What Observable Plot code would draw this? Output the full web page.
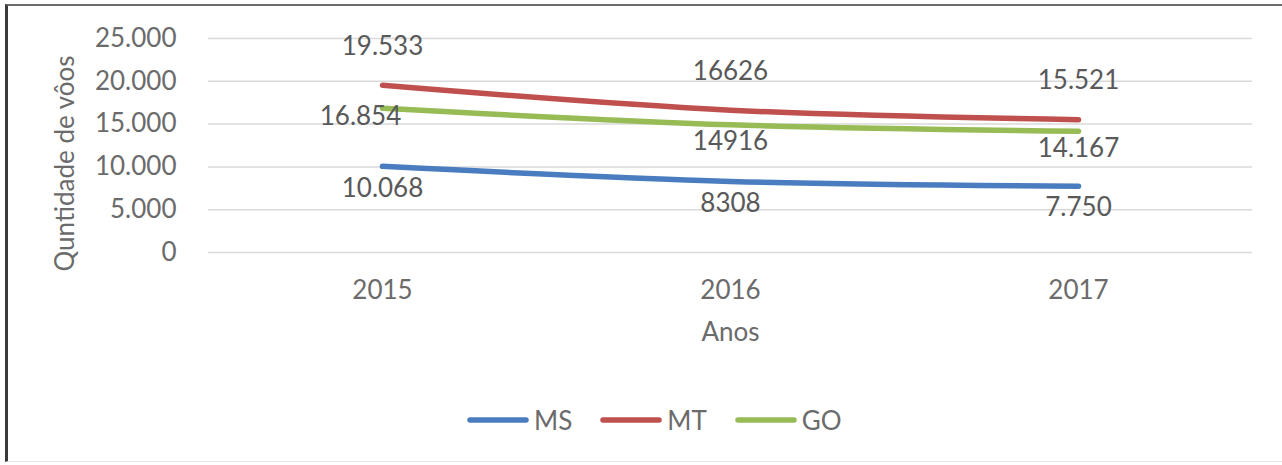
<!DOCTYPE html>
<html>
<head>
<meta charset="utf-8">
<script src="https://cdn.jsdelivr.net/npm/d3@7"></script>
<script src="https://cdn.jsdelivr.net/npm/@observablehq/plot@0.6"></script>
<style>
  html, body { margin: 0; padding: 0; background: #fff; }
  body { width: 1282px; height: 465px; position: relative; overflow: hidden; font-family: Lato, "Open Sans", sans-serif; }
  #frame { position: absolute; left: 5px; top: 4px; width: 1290px; height: 455px;
           border-left: 3px solid #3a3a3a; border-top: 2px solid #6a6a6a; border-bottom: 1px solid #e8e8e8; }
  #chart { position: absolute; left: 0; top: 0; }
  #legend { position: absolute; left: 467px; top: 404px; display: flex; align-items: center; gap: 28px;
            font-size: 26px; color: #6b6b6b; }
  .item { display: flex; align-items: center; gap: 5px; }
</style>
</head>
<body>
<div id="frame"></div>
<div id="chart"></div>
<div id="legend"></div>
<script>
// ---- data ----
const years = ["2015", "2016", "2017"];
const seriesNames = ["MS", "MT", "GO"];
const msValues = [10068, 8308, 7750];
const mtValues = [19533, 16626, 15521];
const goValues = [16854, 14916, 14167];
const msLabels = ["10.068", "8308", "7.750"];
const mtLabels = ["19.533", "16626", "15.521"];
const goLabels = ["16.854", "14916", "14.167"];
const yTicks = [0, 5000, 10000, 15000, 20000, 25000];

// ---- styles ----
const colors = ["#4a7dbf", "#c0504d", "#97bb55"];

const valuesBySeries = {MS: msValues, MT: mtValues, GO: goValues};
const labelsBySeries = {MS: msLabels, MT: mtLabels, GO: goLabels};
const rows = [];
for (const s of seriesNames) {
  years.forEach((y, i) => rows.push({series: s, year: y, value: valuesBySeries[s][i], label: labelsBySeries[s][i]}));
}

const locale = d3.formatLocale({decimal: ",", thousands: ".", grouping: [3], currency: ["R$", ""]});
const fmt = locale.format(",d");

const textColor = "#595959";
const chart = Plot.plot({
  width: 1282,
  height: 372,
  marginLeft: 208,
  marginRight: 30,
  marginTop: 38,
  marginBottom: 120,
  style: {fontFamily: "Lato, 'Open Sans', sans-serif", fontSize: "26px", color: "#6b6b6b", background: "transparent"},
  x: {type: "point", domain: years, padding: 0.5},
  y: {domain: [0, 25000]},
  color: {domain: seriesNames, range: colors},
  marks: [
    Plot.gridY(yTicks, {stroke: "#d9d9d9", strokeOpacity: 1, strokeWidth: 1.5}),
    Plot.axisY(yTicks, {tickSize: 0, tickPadding: 32, tickFormat: fmt, label: null, fontSize: 26}),
    Plot.axisX({tickSize: 0, tickPadding: 28, label: null, fontSize: 26}),
    Plot.text(["Quntidade de vôos"], {frameAnchor: "left", textAnchor: "middle", dx: -143, dy: 18, rotate: -90, fontSize: 26, fill: "#6b6b6b"}),
    Plot.text(["Anos"], {frameAnchor: "bottom", dy: 88, fontSize: 26, fill: "#6b6b6b"}),
    Plot.line(rows, {x: "year", y: "value", z: "series", stroke: "series", strokeWidth: 5.5,
                     strokeLinecap: "round", curve: "monotone-x"}),
    Plot.text(rows.filter(d => d.series === "MT"), {x: "year", y: "value", text: "label", dy: -39, fill: textColor, fontSize: 26}),
    Plot.text(rows.filter(d => d.series === "GO" && d.year === "2015"), {x: "year", y: "value", text: "label", dx: -22, dy: 8, fill: textColor, fontSize: 26}),
    Plot.text(rows.filter(d => d.series === "GO" && d.year !== "2015"), {x: "year", y: "value", text: "label", dy: 17, fill: textColor, fontSize: 26}),
    Plot.text(rows.filter(d => d.series === "MS"), {x: "year", y: "value", text: "label", dy: 22, fill: textColor, fontSize: 26})
  ]
});
document.getElementById("chart").appendChild(chart);

// ---- legend ----
const legend = d3.select("#legend");
seriesNames.forEach((s, i) => {
  const item = legend.append("div").attr("class", "item");
  const svg = item.append("svg").attr("width", 62).attr("height", 10);
  svg.append("line").attr("x1", 3).attr("x2", 59).attr("y1", 5).attr("y2", 5)
    .attr("stroke", colors[i]).attr("stroke-width", 5.5).attr("stroke-linecap", "round");
  item.append("span").text(s);
});
</script>
</body>
</html>
